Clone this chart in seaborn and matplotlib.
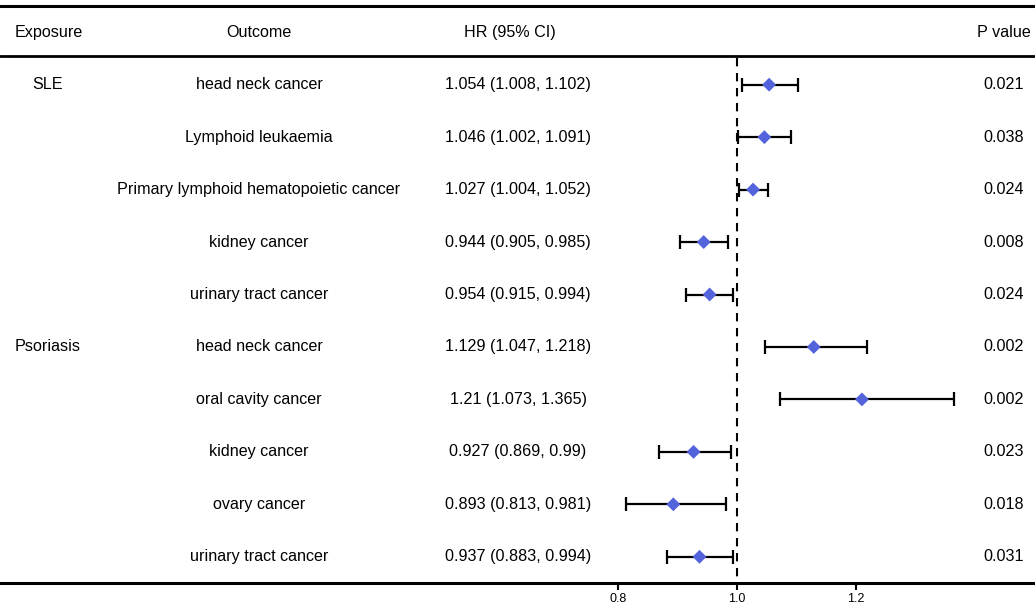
import matplotlib
matplotlib.use("Agg")
import matplotlib.pyplot as plt
import seaborn as sns
import numpy as np
import pandas as pd

exposure = ["SLE", "", "", "", "", "Psoriasis", "", "", "", ""]
outcome = ["head neck cancer", "Lymphoid leukaemia", "Primary lymphoid hematopoietic cancer",
           "kidney cancer", "urinary tract cancer", "head neck cancer", "oral cavity cancer",
           "kidney cancer", "ovary cancer", "urinary tract cancer"]
hr = [1.054, 1.046, 1.027, 0.944, 0.954, 1.129, 1.21, 0.927, 0.893, 0.937]
lower = [1.008, 1.002, 1.004, 0.905, 0.915, 1.047, 1.073, 0.869, 0.813, 0.883]
upper = [1.102, 1.091, 1.052, 0.985, 0.994, 1.218, 1.365, 0.99, 0.981, 0.994]
hr_text = ["1.054 (1.008, 1.102)", "1.046 (1.002, 1.091)", "1.027 (1.004, 1.052)",
           "0.944 (0.905, 0.985)", "0.954 (0.915, 0.994)", "1.129 (1.047, 1.218)",
           "1.21 (1.073, 1.365)", "0.927 (0.869, 0.99)", "0.893 (0.813, 0.981)",
           "0.937 (0.883, 0.994)"]
pvals = ["0.021", "0.038", "0.024", "0.008", "0.024", "0.002", "0.002", "0.023", "0.018", "0.031"]
headers = ["Exposure", "Outcome", "HR (95% CI)", "P value"]
xticks = [0.8, 1.0, 1.2]
xticklabels = ["0.8", "1.0", "1.2"]

sns.set_theme(style="white")
plt.rcParams['font.family'] = ['Liberation Sans', 'DejaVu Sans']
plt.rcParams['text.color'] = 'black'
plt.rcParams['xtick.color'] = 'black'

df = pd.DataFrame({"row": np.arange(len(hr)), "hr": hr, "lower": lower, "upper": upper})

W, H = 1035, 607
fig = plt.figure(figsize=(W / 100, H / 100), dpi=100)
ax = fig.add_axes([0, (H - 583) / H, 1, (583 - 6) / H])

# x mapping: 0.8 -> 618px, 1.0 -> 737px
scale = (737 - 618) / 0.2
ax.set_xlim(1 - 737 / scale, 1 + (W - 737) / scale)
ax.set_ylim(9.5, -1.5)

def px2x(px):
    return 1 + (px - 737) / scale

# reference line
ax.plot([1, 1], [-0.5, 9.5], color="black", lw=1.5, ls=(0, (4, 3.2)), zorder=1)

# CI bars
ax.errorbar(df["hr"], df["row"],
            xerr=[df["hr"] - df["lower"], df["upper"] - df["hr"]],
            fmt="none", ecolor="black", elinewidth=1.6, capsize=4.8, capthick=1.6, zorder=2)
sns.scatterplot(data=df, x="hr", y="row", marker="D", s=50, color="#5363DC",
                edgecolor="none", ax=ax, zorder=3, legend=False)

# lines
ax.axhline(-1.5, color="black", lw=2.2, clip_on=False)
ax.axhline(-0.55, color="black", lw=2.0)

fs = 11.6
ax.text(px2x(49), -1, headers[0], ha="center", va="center", fontsize=fs)
ax.text(px2x(259), -1, headers[1], ha="center", va="center", fontsize=fs)
ax.text(px2x(510), -1, headers[2], ha="center", va="center", fontsize=fs)
ax.text(px2x(1004), -1, headers[3], ha="center", va="center", fontsize=fs)
for i in range(len(hr)):
    ax.text(px2x(48), i, exposure[i], ha="center", va="center", fontsize=fs)
    ax.text(px2x(259), i, outcome[i], ha="center", va="center", fontsize=fs)
    ax.text(px2x(518), i, hr_text[i], ha="center", va="center", fontsize=fs)
    ax.text(px2x(1004), i, pvals[i], ha="center", va="center", fontsize=fs)

for s in ["top", "left", "right"]:
    ax.spines[s].set_visible(False)
ax.spines["bottom"].set_linewidth(2.2)
ax.spines["bottom"].set_color("black")
ax.set_yticks([])
ax.set_xticks(xticks)
ax.set_xticklabels(xticklabels, fontsize=9)
ax.tick_params(axis="x", direction="out", length=5, width=1.5, color="black", pad=2, bottom=True)
ax.set_xlabel("")
ax.set_ylabel("")

fig.savefig("out.png", dpi=100)
